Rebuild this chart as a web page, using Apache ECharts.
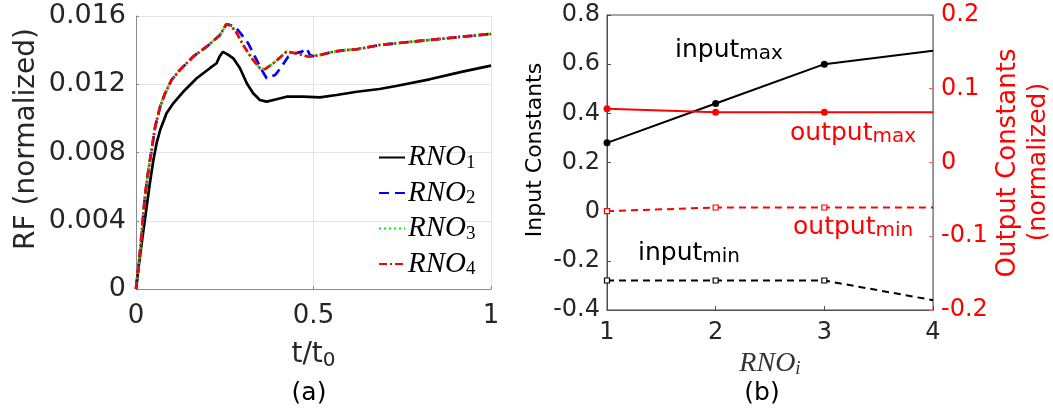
<!DOCTYPE html>
<html>
<head>
<meta charset="utf-8">
<script src="https://cdn.jsdelivr.net/npm/echarts@6/dist/echarts.min.js"></script>
<style>
  html, body { margin: 0; padding: 0; background: #fff; }
  #chart { width: 1053px; height: 411px; }
</style>
</head>
<body>
<div id="chart"></div>
<script>
// (a) reaction force histories, t/t0 vs RF
const tRNO1  = [0, 0.011, 0.021, 0.030, 0.039, 0.049, 0.058, 0.068, 0.086, 0.105, 0.133, 0.171, 0.208, 0.227, 0.235, 0.245, 0.258, 0.274, 0.293, 0.312, 0.330, 0.349, 0.368, 0.396, 0.424, 0.471, 0.518, 0.565, 0.622, 0.686, 0.733, 0.827, 0.920, 1.0];
const rfRNO1 = [0, 0.0019, 0.00346, 0.00482, 0.0062, 0.00756, 0.00854, 0.00932, 0.0103, 0.01088, 0.01156, 0.01235, 0.01294, 0.01323, 0.01361, 0.0139, 0.01375, 0.01352, 0.01294, 0.01206, 0.01147, 0.01108, 0.01098, 0.01112, 0.01127, 0.01127, 0.01123, 0.01137, 0.01156, 0.01172, 0.0119, 0.01229, 0.01274, 0.01309];

const tRNO2  = [0, 0.011, 0.025, 0.035, 0.044, 0.054, 0.068, 0.082, 0.100, 0.124, 0.161, 0.199, 0.237, 0.254, 0.262, 0.279, 0.298, 0.316, 0.335, 0.354, 0.368, 0.392, 0.410, 0.429, 0.448, 0.467, 0.481, 0.490, 0.504, 0.518, 0.556, 0.592, 0.622, 0.686, 0.780, 0.873, 1.0];
const rfRNO2 = [0, 0.00209, 0.00541, 0.00697, 0.00815, 0.00951, 0.01069, 0.01147, 0.01225, 0.01284, 0.01362, 0.0142, 0.01489, 0.01551, 0.01549, 0.01538, 0.01489, 0.0144, 0.01362, 0.01284, 0.01235, 0.01254, 0.01303, 0.01362, 0.01381, 0.01391, 0.0141, 0.01371, 0.01361, 0.01371, 0.01391, 0.01401, 0.01405, 0.0143, 0.0145, 0.01469, 0.01495];

const tRNO3  = [0, 0.011, 0.025, 0.035, 0.044, 0.054, 0.068, 0.082, 0.100, 0.124, 0.161, 0.199, 0.237, 0.254, 0.262, 0.279, 0.302, 0.326, 0.349, 0.363, 0.387, 0.424, 0.453, 0.486, 0.518, 0.556, 0.592, 0.622, 0.686, 0.780, 0.873, 1.0];
const rfRNO3 = [0, 0.00209, 0.00541, 0.00697, 0.00815, 0.00951, 0.01069, 0.01147, 0.01225, 0.01284, 0.01362, 0.0142, 0.01489, 0.01551, 0.01547, 0.01518, 0.0143, 0.01352, 0.01294, 0.01288, 0.01323, 0.01391, 0.01381, 0.01361, 0.01371, 0.01391, 0.01401, 0.01405, 0.0143, 0.0145, 0.01469, 0.01495];

const tRNO4  = [0, 0.011, 0.025, 0.035, 0.044, 0.054, 0.068, 0.082, 0.100, 0.124, 0.161, 0.199, 0.237, 0.254, 0.262, 0.279, 0.302, 0.326, 0.349, 0.363, 0.387, 0.424, 0.453, 0.486, 0.518, 0.556, 0.592, 0.622, 0.686, 0.780, 0.873, 1.0];
const rfRNO4 = [0, 0.00209, 0.00541, 0.00697, 0.00815, 0.00951, 0.01069, 0.01147, 0.01225, 0.01284, 0.01362, 0.0142, 0.01489, 0.01551, 0.01547, 0.01518, 0.0143, 0.01352, 0.01294, 0.01288, 0.01323, 0.01391, 0.01381, 0.01361, 0.01371, 0.01391, 0.01401, 0.01405, 0.0143, 0.0145, 0.01469, 0.01495];

const rfTicks = [0, 0.004, 0.008, 0.012, 0.016];
const tTicks = [0, 0.5, 1];

// (b) identified constants per RNO model
const rnoIndex  = [1, 2, 3, 4];
const inputMax  = [0.28, 0.44, 0.60, 0.655];
const inputMin  = [-0.28, -0.28, -0.28, -0.36];
const outputMax = [0.073, 0.068, 0.068, 0.068];
const outputMin = [-0.066, -0.061, -0.061, -0.061];

const FONT = 'DejaVu Sans';
const SERIF = 'Liberation Serif';
const INK = '#262626';
const RED = '#ff0000';

const zip = (xs, ys) => xs.map((x, i) => [x, ys[i]]);
// last point of each constants line sits on the frame edge without a marker
const withMarks = ys => ys.map((v, i) => i < ys.length - 1 ? [rnoIndex[i], v] : { value: [rnoIndex[i], v], symbol: 'none' });

const legendRich = {
  m: { fontFamily: SERIF, fontStyle: 'italic', fontSize: 29, color: '#000', lineHeight: 30 },
  s: { fontFamily: SERIF, fontSize: 19, color: '#000', lineHeight: 12, verticalAlign: 'bottom' }
};

const chart = echarts.init(document.getElementById('chart'), null, { renderer: 'canvas' });

const option = {
  animation: false,
  backgroundColor: '#fff',
  grid: [
    { left: 136, top: 16, width: 355, height: 273, containLabel: false },
    { left: 607, top: 15, width: 326, height: 295, containLabel: false,
      show: true, borderColor: '#4d4d4d', borderWidth: 1, backgroundColor: 'transparent' }
  ],
  legend: {
    left: 373, top: 138, orient: 'vertical',
    itemWidth: 26, itemHeight: 14, itemGap: 6,
    selectedMode: false,
    itemStyle: { opacity: 0 },
    data: ['RNO1', 'RNO2', 'RNO3', 'RNO4'],
    formatter: n => '{m|RNO}{s|' + n.slice(3) + '}',
    textStyle: { rich: legendRich, padding: [0, 0, 0, -2] }
  },
  xAxis: [
    {
      type: 'value', gridIndex: 0, min: 0, max: 1, interval: 0.5,
      name: '{m|t/t}{s|0}', nameLocation: 'middle', nameGap: 50,
      nameTextStyle: {
        rich: {
          m: { fontFamily: FONT, fontSize: 28, color: INK, lineHeight: 32 },
          s: { fontFamily: FONT, fontSize: 20, color: INK, lineHeight: 12, verticalAlign: 'bottom' }
        }
      },
      axisLine: { show: true, onZero: false, lineStyle: { color: '#8c8c8c', width: 1 } },
      axisTick: { show: true, inside: true, length: 3, lineStyle: { color: '#8c8c8c' } },
      axisLabel: { fontFamily: FONT, fontSize: 26, color: INK, margin: 14,
        formatter: v => tTicks.includes(v) ? String(v) : '' },
      splitLine: { show: true, lineStyle: { color: '#e3e3e3', width: 1 } }
    },
    {
      type: 'value', gridIndex: 1, min: 1, max: 4, interval: 1,
      name: '{m|RNO}{s|i}', nameLocation: 'middle', nameGap: 40,
      nameTextStyle: {
        rich: {
          m: { fontFamily: SERIF, fontStyle: 'italic', fontSize: 28, color: '#333', lineHeight: 28 },
          s: { fontFamily: SERIF, fontStyle: 'italic', fontSize: 19, color: '#333', lineHeight: 10, verticalAlign: 'bottom' }
        }
      },
      axisLine: { show: true, onZero: false, lineStyle: { color: '#4d4d4d', width: 1 } },
      axisTick: { show: true, inside: true, length: 4, lineStyle: { color: '#4d4d4d' } },
      axisLabel: { fontFamily: FONT, fontSize: 24, color: INK, margin: 11 },
      splitLine: { show: false }
    }
  ],
  yAxis: [
    {
      type: 'value', gridIndex: 0, min: 0, max: 0.016, interval: 0.004,
      axisLine: { show: true, onZero: false, lineStyle: { color: '#8c8c8c', width: 1 } },
      axisTick: { show: true, inside: true, length: 3, lineStyle: { color: '#8c8c8c' } },
      axisLabel: { fontFamily: FONT, fontSize: 27, color: INK, margin: 10,
        formatter: v => { const k = rfTicks.find(t => Math.abs(t - v) < 1e-9); return k === undefined ? '' : (k === 0 ? '0' : k.toFixed(3)); } },
      splitLine: { show: true, lineStyle: { color: '#e3e3e3', width: 1 } }
    },
    {
      type: 'value', gridIndex: 1, min: -0.4, max: 0.8, interval: 0.2, position: 'left',
      axisLine: { show: true, onZero: false, lineStyle: { color: '#4d4d4d', width: 1 } },
      axisTick: { show: true, inside: true, length: 4, lineStyle: { color: '#4d4d4d' } },
      axisLabel: { fontFamily: FONT, fontSize: 24, color: INK, margin: 7,
        formatter: v => (Math.abs(v) < 1e-9 ? '0' : (+v.toFixed(1)).toString()) },
      splitLine: { show: false }
    },
    {
      type: 'value', gridIndex: 1, min: -0.2, max: 0.2, interval: 0.1, position: 'right',
      axisLine: { show: true, onZero: false, lineStyle: { color: '#ff5a5a', width: 1 } },
      axisTick: { show: true, inside: true, length: 4, lineStyle: { color: '#ff5a5a' } },
      axisLabel: { fontFamily: FONT, fontSize: 24, color: RED, margin: 8,
        formatter: v => (Math.abs(v) < 1e-9 ? '0' : (+v.toFixed(1)).toString()) },
      splitLine: { show: false }
    }
  ],
  series: [
    { name: 'RNO1', type: 'line', xAxisIndex: 0, yAxisIndex: 0, data: zip(tRNO1, rfRNO1),
      symbol: 'none', lineStyle: { color: '#000', width: 2.7 }, itemStyle: { color: '#000' } },
    { name: 'RNO2', type: 'line', xAxisIndex: 0, yAxisIndex: 0, data: zip(tRNO2, rfRNO2),
      symbol: 'none', lineStyle: { color: '#0000ff', width: 2.7, type: [10, 6] }, itemStyle: { color: '#0000ff' } },
    { name: 'RNO3', type: 'line', xAxisIndex: 0, yAxisIndex: 0, data: zip(tRNO3, rfRNO3),
      symbol: 'none', lineStyle: { color: '#00ee00', width: 2.7, type: [2, 3] }, itemStyle: { color: '#00ee00' } },
    { name: 'RNO4', type: 'line', xAxisIndex: 0, yAxisIndex: 0, data: zip(tRNO4, rfRNO4),
      symbol: 'none', lineStyle: { color: '#ff0000', width: 2.7, type: [8, 3, 2, 3] }, itemStyle: { color: '#ff0000' } },

    { name: 'input_max', type: 'line', xAxisIndex: 1, yAxisIndex: 1, data: withMarks(inputMax),
      symbol: 'circle', symbolSize: 7, clip: true,
      lineStyle: { color: '#000', width: 2 }, itemStyle: { color: '#000' } },
    { name: 'input_min', type: 'line', xAxisIndex: 1, yAxisIndex: 1, data: withMarks(inputMin),
      symbol: 'rect', symbolSize: 5, clip: true,
      lineStyle: { color: '#000', width: 2, type: [7, 5] }, itemStyle: { color: '#fff', borderColor: '#000', borderWidth: 1.2 } },
    { name: 'output_max', type: 'line', xAxisIndex: 1, yAxisIndex: 2, data: withMarks(outputMax),
      symbol: 'circle', symbolSize: 7, clip: true,
      lineStyle: { color: RED, width: 2 }, itemStyle: { color: RED } },
    { name: 'output_min', type: 'line', xAxisIndex: 1, yAxisIndex: 2, data: withMarks(outputMin),
      symbol: 'rect', symbolSize: 5, clip: true,
      lineStyle: { color: RED, width: 2, type: [7, 5] }, itemStyle: { color: '#fff', borderColor: RED, borderWidth: 1.2 } }
  ],
  graphic: [
    // vertical axis titles
    { type: 'text', x: 27, y: 139, rotation: Math.PI / 2,
      style: { text: 'RF (normalized)', font: '28px "DejaVu Sans"', fill: INK, align: 'center', verticalAlign: 'middle' } },
    { type: 'text', x: 535, y: 150, rotation: Math.PI / 2,
      style: { text: 'Input Constants', font: '22px "DejaVu Sans"', fill: '#000', align: 'center', verticalAlign: 'middle' } },
    { type: 'text', x: 1008, y: 163, rotation: Math.PI / 2,
      style: { text: 'Output Constants', font: '26px "DejaVu Sans"', fill: RED, align: 'center', verticalAlign: 'middle' } },
    { type: 'text', x: 1038, y: 162, rotation: Math.PI / 2,
      style: { text: '(normalized)', font: '25px "DejaVu Sans"', fill: RED, align: 'center', verticalAlign: 'middle' } },
    // panel captions
    { type: 'text', x: 309, y: 393,
      style: { text: '(a)', font: '25px "DejaVu Sans"', fill: '#000', align: 'center', verticalAlign: 'middle' } },
    { type: 'text', x: 762, y: 393,
      style: { text: '(b)', font: '25px "DejaVu Sans"', fill: '#000', align: 'center', verticalAlign: 'middle' } },
    // curve annotations in panel (b)
    { type: 'text', x: 675, y: 36,
      style: { text: '{m|input}{s|max}', rich: {
        m: { fontFamily: FONT, fontSize: 25, fill: '#000', lineHeight: 28 },
        s: { fontFamily: FONT, fontSize: 20, fill: '#000', lineHeight: 12, verticalAlign: 'bottom' } } } },
    { type: 'text', x: 790, y: 119,
      style: { text: '{m|output}{s|max}', rich: {
        m: { fontFamily: FONT, fontSize: 25, fill: RED, lineHeight: 28 },
        s: { fontFamily: FONT, fontSize: 20, fill: RED, lineHeight: 12, verticalAlign: 'bottom' } } } },
    { type: 'text', x: 793, y: 213,
      style: { text: '{m|output}{s|min}', rich: {
        m: { fontFamily: FONT, fontSize: 25, fill: RED, lineHeight: 28 },
        s: { fontFamily: FONT, fontSize: 20, fill: RED, lineHeight: 12, verticalAlign: 'bottom' } } } },
    { type: 'text', x: 638, y: 239,
      style: { text: '{m|input}{s|min}', rich: {
        m: { fontFamily: FONT, fontSize: 25, fill: '#000', lineHeight: 28 },
        s: { fontFamily: FONT, fontSize: 20, fill: '#000', lineHeight: 12, verticalAlign: 'bottom' } } } }
  ]
};

chart.setOption(option);
</script>
</body>
</html>
